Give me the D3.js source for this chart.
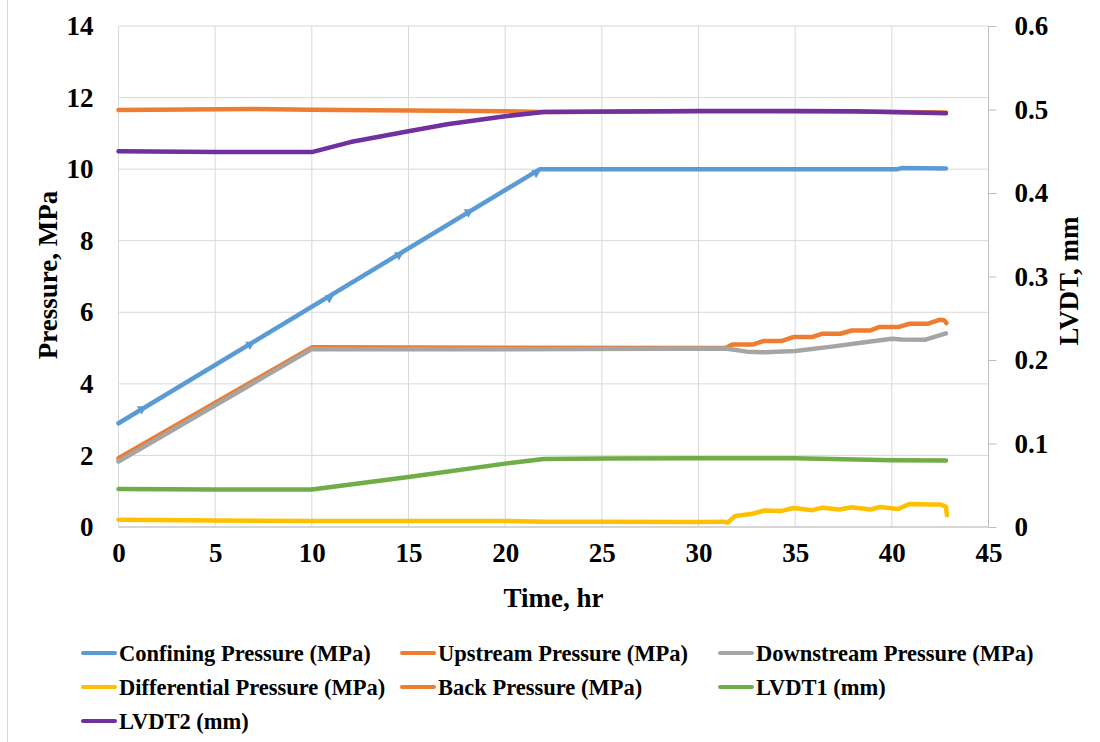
<!DOCTYPE html>
<html>
<head>
<meta charset="utf-8">
<script src="https://cdn.jsdelivr.net/npm/d3@7"></script>
<style>
  body { margin: 0; background: #fff; }
  text { font-family: "Liberation Serif", "Times New Roman", serif; font-weight: bold; fill: #000; }
</style>
</head>
<body>
<script>
// data (time in hr; pressures in MPa, LVDT in mm)
var confiningT = [0, 21.8, 30, 40.3, 40.5, 42.8];
var confiningV = [2.9, 10.0, 10.0, 10.0, 10.03, 10.02];
var markerT = [1.2, 6.8, 10.9, 14.5, 18.1, 21.6];
var markerV = [3.3, 5.1, 6.4, 7.6, 8.8, 9.9];

var upstreamT = [0, 10, 20, 31.4, 31.75, 32.84, 33.38, 34.33, 34.93, 35.9, 36.38, 37.34, 37.92, 38.87, 39.37, 40.37, 40.92, 41.88, 42.46, 42.7, 42.82];
var upstreamV = [1.92, 5.02, 5.01, 5.0, 5.1, 5.1, 5.2, 5.2, 5.31, 5.31, 5.4, 5.4, 5.49, 5.49, 5.59, 5.59, 5.68, 5.68, 5.79, 5.78, 5.7];

var downstreamT = [0, 10, 20, 31.4, 32.5, 33.4, 35.0, 36.9, 38.6, 40.0, 40.5, 41.7, 42.8];
var downstreamV = [1.83, 4.97, 4.97, 4.99, 4.9, 4.88, 4.92, 5.04, 5.16, 5.26, 5.24, 5.23, 5.41];

var differentialT = [0, 5, 10, 20, 22, 25, 30, 31.3, 31.5, 31.9, 32.8, 33.4, 34.3, 34.9, 35.9, 36.4, 37.3, 37.9, 38.9, 39.4, 40.3, 40.9, 41.9, 42.5, 42.8, 42.85];
var differentialV = [0.2, 0.18, 0.17, 0.17, 0.15, 0.15, 0.14, 0.15, 0.12, 0.31, 0.37, 0.46, 0.45, 0.53, 0.47, 0.54, 0.49, 0.55, 0.49, 0.56, 0.5, 0.64, 0.63, 0.63, 0.57, 0.33];

var backT = [0, 7, 10, 20, 22, 30, 38, 42.8];
var backV = [11.65, 11.68, 11.66, 11.62, 11.6, 11.62, 11.61, 11.58];

var lvdt1T = [0, 5, 10, 15, 20, 22, 25, 30, 35, 40, 42.8];
var lvdt1V = [0.0454, 0.045, 0.045, 0.060, 0.0759, 0.0814, 0.082, 0.0823, 0.0823, 0.080, 0.0797];

var lvdt2T = [0, 5, 10, 12, 15, 17, 20, 22, 30, 35, 38, 42.8];
var lvdt2V = [0.45, 0.4491, 0.449, 0.461, 0.474, 0.4824, 0.492, 0.497, 0.4983, 0.4983, 0.4979, 0.4955];

var xTicks = [0, 5, 10, 15, 20, 25, 30, 35, 40, 45];
var yTicks = [0, 2, 4, 6, 8, 10, 12, 14];
var y2Ticks = [0, 0.1, 0.2, 0.3, 0.4, 0.5, 0.6];

var seriesNames = ["Confining Pressure (MPa)", "Upstream Pressure (MPa)", "Downstream Pressure (MPa)",
  "Differential Pressure (MPa)", "Back Pressure (MPa)", "LVDT1 (mm)", "LVDT2 (mm)"];
var seriesColors = ["#5b9bd5", "#ed7d31", "#a5a5a5", "#ffc000", "#ed7d31", "#70ad47", "#7030a0"];

var width = 1100, height = 742;
var plotL = 118.5, plotR = 988.5, plotT = 26, plotB = 527;

var svg = d3.select("body").append("svg")
  .attr("width", width)
  .attr("height", height);

// chart frame
svg.append("rect")
  .attr("x", 7.5).attr("y", -2)
  .attr("width", 1100).attr("height", 760)
  .attr("fill", "none").attr("stroke", "#d9d9d9");

var x = d3.scaleLinear().domain([0, 45]).range([plotL, plotR]);
var y = d3.scaleLinear().domain([0, 14]).range([plotB, plotT]);
var y2 = d3.scaleLinear().domain([0, 0.6]).range([plotB, plotT]);

// grid
svg.append("g").selectAll("line")
  .data(xTicks).enter().append("line")
  .attr("x1", function(d) { return x(d); }).attr("x2", function(d) { return x(d); })
  .attr("y1", plotT).attr("y2", plotB)
  .attr("stroke", "#d9d9d9").attr("stroke-width", 1);
svg.append("g").selectAll("line")
  .data(yTicks).enter().append("line")
  .attr("x1", plotL).attr("x2", plotR)
  .attr("y1", function(d) { return y(d); }).attr("y2", function(d) { return y(d); })
  .attr("stroke", "#d9d9d9").attr("stroke-width", 1);

// axes
var xAxis = svg.append("g")
  .attr("transform", "translate(0," + plotB + ")")
  .call(d3.axisBottom(x).tickValues(xTicks).tickSize(0).tickPadding(16));
var yAxis = svg.append("g")
  .attr("transform", "translate(" + plotL + ",0)")
  .call(d3.axisLeft(y).tickValues(yTicks).tickSize(0).tickPadding(25));
var y2Axis = svg.append("g")
  .attr("transform", "translate(" + plotR + ",0)")
  .call(d3.axisRight(y2).tickValues(y2Ticks).tickSize(8).tickPadding(18).tickFormat(d3.format(".1~f")));

[xAxis, yAxis, y2Axis].forEach(function(a) {
  a.select(".domain").remove();
  a.selectAll("text").style("font-size", "27px").attr("fill", "#000");
  a.selectAll("line").attr("stroke", "#bfbfbf");
});
svg.append("line")
  .attr("x1", plotR).attr("x2", plotR).attr("y1", plotT).attr("y2", plotB)
  .attr("stroke", "#bfbfbf");
svg.append("line")
  .attr("x1", plotL).attr("x2", plotR).attr("y1", plotB).attr("y2", plotB)
  .attr("stroke", "#bfbfbf");

// axis titles
svg.append("text")
  .attr("x", x(22.5)).attr("y", 607)
  .attr("text-anchor", "middle")
  .style("font-size", "27px")
  .text("Time, hr");
svg.append("text")
  .attr("transform", "translate(57,275) rotate(-90)")
  .attr("text-anchor", "middle")
  .style("font-size", "27px")
  .text("Pressure, MPa");
svg.append("text")
  .attr("transform", "translate(1078,281) rotate(-90)")
  .attr("text-anchor", "middle")
  .style("font-size", "27px")
  .text("LVDT, mm");

// series
var series = [
  { t: confiningT, v: confiningV, s: y },
  { t: upstreamT, v: upstreamV, s: y },
  { t: downstreamT, v: downstreamV, s: y },
  { t: differentialT, v: differentialV, s: y },
  { t: backT, v: backV, s: y },
  { t: lvdt1T, v: lvdt1V, s: y2 },
  { t: lvdt2T, v: lvdt2V, s: y2 }
];

var plot = svg.append("g");
series.forEach(function(ser, i) {
  var pts = ser.t.map(function(t, k) { return [t, ser.v[k]]; });
  var line = d3.line()
    .x(function(d) { return x(d[0]); })
    .y(function(d) { return ser.s(d[1]); });
  plot.append("path")
    .attr("d", line(pts))
    .attr("fill", "none")
    .attr("stroke", seriesColors[i])
    .attr("stroke-width", 4.5)
    .attr("stroke-linejoin", "round")
    .attr("stroke-linecap", "round");
  if (i === 0) {
    plot.selectAll(".mk")
      .data(markerT).enter().append("path")
      .attr("class", "mk")
      .attr("d", d3.symbol().type(d3.symbolTriangle).size(40))
      .attr("transform", function(d, k) {
        return "translate(" + x(d) + "," + y(markerV[k]) + ") rotate(-60)";
      })
      .attr("fill", seriesColors[0]);
  }
});

// legend
var legendCols = [83, 402, 720];
var legendRows = [653, 687, 721];
var legend = svg.append("g");
seriesNames.forEach(function(name, i) {
  var lx = legendCols[i % 3], ly = legendRows[Math.floor(i / 3)];
  legend.append("line")
    .attr("x1", lx).attr("x2", lx + 32)
    .attr("y1", ly).attr("y2", ly)
    .attr("stroke", seriesColors[i]).attr("stroke-width", 4)
    .attr("stroke-linecap", "round");
  legend.append("text")
    .attr("x", lx + 36).attr("y", ly + 8)
    .style("font-size", "22.5px")
    .text(name);
});
</script>
</body>
</html>
